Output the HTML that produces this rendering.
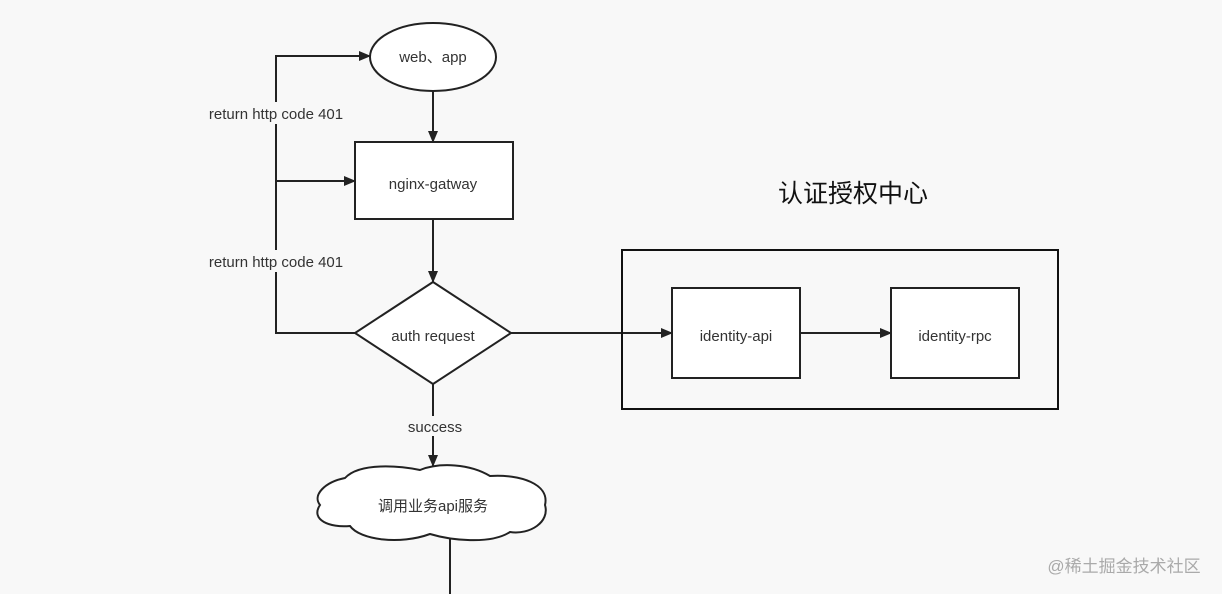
<!DOCTYPE html>
<html><head><meta charset="utf-8"><style>
html,body{margin:0;padding:0;background:#f8f8f8;}
svg{display:block;font-family:"Liberation Sans","Noto Sans CJK SC",sans-serif;}
</style></head><body>
<svg width="1222" height="594" viewBox="0 0 1222 594" xmlns="http://www.w3.org/2000/svg">
<rect width="1222" height="594" fill="#f8f8f8"/>
<defs><marker id="a" markerWidth="12" markerHeight="10" refX="11" refY="5" orient="auto" markerUnits="userSpaceOnUse"><path d="M0,0 L12,5 L0,10 Z" fill="#222"/></marker></defs>
<g stroke="#222" stroke-width="2" fill="none">
<path d="M433,91 V142" marker-end="url(#a)"/>
<path d="M433,219 V282" marker-end="url(#a)"/>
<path d="M355,333 H276 V56 H370" marker-end="url(#a)"/>
<path d="M276,181 H355" marker-end="url(#a)"/>
<path d="M433,384 V466" marker-end="url(#a)"/>
<path d="M511,333 H672" marker-end="url(#a)"/>
<path d="M800,333 H891" marker-end="url(#a)"/>
<path d="M450,538 V594"/>
</g>
<g stroke="#222" stroke-width="2" fill="#fff">
<ellipse cx="433" cy="57" rx="63" ry="34"/>
<rect x="355" y="142" width="158" height="77"/>
<path d="M433,282 L511,333 L433,384 L355,333 Z"/>
<path d="M345,478 C360,462 400,466 420,470 C440,462 470,464 490,476 C520,474 550,484 545,505 C550,522 530,535 510,532 C490,545 450,540 430,534 C400,545 360,540 350,526 C330,528 310,520 320,505 C312,495 325,482 345,478 Z"/>
</g>
<rect x="622" y="250" width="436" height="159" fill="none" stroke="#111" stroke-width="2"/>
<rect x="672" y="288" width="128" height="90" fill="#fff" stroke="#222" stroke-width="2"/>
<rect x="891" y="288" width="128" height="90" fill="#fff" stroke="#222" stroke-width="2"/>
<rect x="196" y="102" width="160" height="22" fill="#f8f8f8"/>
<rect x="196" y="250" width="160" height="22" fill="#f8f8f8"/>
<rect x="402" y="416" width="64" height="20" fill="#f8f8f8"/>
<g fill="#333" font-size="15" text-anchor="middle">
<text x="433" y="62">web、app</text>
<text x="433" y="189">nginx-gatway</text>
<text x="433" y="341">auth request</text>
<text x="276" y="119">return http code 401</text>
<text x="276" y="267">return http code 401</text>
<text x="435" y="432">success</text>
<text x="433" y="511">调用业务api服务</text>
<text x="736" y="341">identity-api</text>
<text x="955" y="341">identity-rpc</text>
<text x="853" y="202" font-size="25" fill="#111">认证授权中心</text>
<text x="1124" y="572" font-size="17" fill="#aaa">@稀土掘金技术社区</text>
</g>
</svg>
</body></html>
